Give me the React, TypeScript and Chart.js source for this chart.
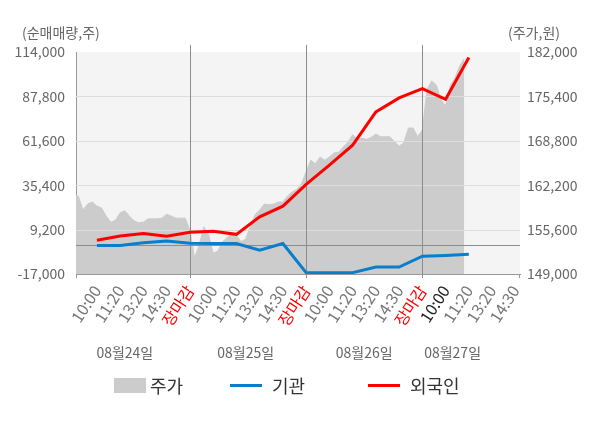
import { useEffect, useRef } from 'react'
import { Chart, registerables } from 'chart.js'

Chart.register(...registerables)

const FONT = "'Noto Sans CJK KR', 'Noto Sans', sans-serif"

// x axis: one slot per label, day closes at 4, 9, 14
const xLabels = [
  '10:00', '11:20', '13:20', '14:30', '장마감',
  '10:00', '11:20', '13:20', '14:30', '장마감',
  '10:00', '11:20', '13:20', '14:30', '장마감',
  '10:00', '11:20', '13:20', '14:30',
]
const closeIdx = [4, 9, 14]
const currentIdx = 15
const dateLabels = ['08월24일', '08월25일', '08월26일', '08월27일']
const dateLabelAt = [1.2, 6.4, 11.5, 15.3]

// 순매매량 (주), one value per label slot
const foreign = [2900, 5400, 6900, 5300, 7600, 8200, 6400, 16700, 23000, 35900, 47200, 59000, 78600, 86900, 92400, 86100, 110700]
const institution = [-200, -200, 1400, 2500, 1100, 1000, 1000, -3000, 1000, -16200, -16200, -16200, -12900, -12900, -6500, -6100, -5400]

// 주가 (원), sampled every 0.2 slot from each day's start
const dayStart = [-1, 4, 9, 14]
const priceStep = 0.2
const day1Price = [160900, 160600, 158500, 159400, 159700, 159100, 158800, 157600, 156700, 157000, 158100, 158400, 157600, 156900, 156600, 156700, 157200, 157200, 157200, 157300, 157900, 157600, 157300, 157300, 157300]
const day2Price = [155500, 151400, 153300, 156000, 154900, 152100, 152400, 153800, 154400, 154900, 154800, 153800, 154200, 156100, 157800, 158500, 159400, 159300, 159400, 159700, 159700, 160600, 161200, 161600, 162400]
const day3Price = [164200, 165900, 165400, 166400, 165900, 166400, 167000, 167100, 167900, 168600, 169700, 169000, 169200, 169000, 169300, 169800, 169400, 169400, 169400, 168700, 168000, 168500, 170700, 170700, 169400]
const day4Price = [170400, 176400, 177700, 177100, 174900, 174000, 177000, 178100, 179900, 181000]

const volTicks = [-17000, 9200, 35400, 61600, 87800, 114000]
const priceTicks = [149000, 155600, 162200, 168800, 175400, 182000]

const fmt = (v: number) => v.toLocaleString('en-US')

const decor = {
  id: 'decor',
  beforeDraw(chart: any) {
    const { ctx, chartArea: a } = chart
    ctx.save()
    ctx.fillStyle = '#f4f4f4'
    ctx.fillRect(a.left, a.top, a.right - a.left, a.bottom - a.top)
    ctx.restore()
  },
  afterDatasetDraw(chart: any, args: any) {
    if (args.index !== 2) return
    const { ctx, chartArea: a, scales } = chart
    const hline = (py: number) => {
      ctx.beginPath(); ctx.moveTo(a.left, py); ctx.lineTo(a.right, py); ctx.stroke()
    }
    const vline = (px: number, y0: number, y1: number) => {
      ctx.beginPath(); ctx.moveTo(px, y0); ctx.lineTo(px, y1); ctx.stroke()
    }
    ctx.save()
    ctx.lineWidth = 1
    ctx.strokeStyle = '#dddddd'
    volTicks.slice(1, -1).forEach((v) => hline(Math.round(scales.y.getPixelForValue(v)) + 0.5))
    ctx.strokeStyle = '#8c8c8c'
    hline(Math.round(scales.y.getPixelForValue(0)) + 0.5)
    closeIdx.forEach((i) => vline(Math.round(scales.x.getPixelForValue(i)) + 0.5, a.top - 7, a.bottom + 4))
    ctx.strokeStyle = '#999999'
    vline(Math.round(a.left) + 0.5, a.bottom, a.bottom + 4)
    vline(Math.round(a.right) - 0.5, a.bottom, a.bottom + 4)
    ctx.restore()
  },
  afterDraw(chart: any) {
    const { ctx, scales } = chart
    ctx.save()
    ctx.textBaseline = 'middle'
    ctx.font = `14px ${FONT}`
    ctx.fillStyle = '#666666'
    ctx.textAlign = 'left'
    ctx.fillText('(순매매량,주)', 22, 33)
    ctx.fillText('(주가,원)', 508, 33)
    ctx.textAlign = 'center'
    dateLabels.forEach((t, i) => ctx.fillText(t, scales.x.getPixelForValue(dateLabelAt[i]), 353))

    // legend
    ctx.textAlign = 'left'
    ctx.font = `18px ${FONT}`
    ctx.fillStyle = '#cccccc'
    ctx.fillRect(114, 378, 32, 15)
    ctx.lineWidth = 3
    ctx.strokeStyle = '#0a7ecb'
    ctx.beginPath(); ctx.moveTo(230, 385.5); ctx.lineTo(262, 385.5); ctx.stroke()
    ctx.strokeStyle = '#ff0000'
    ctx.beginPath(); ctx.moveTo(368, 385.5); ctx.lineTo(400, 385.5); ctx.stroke()
    ctx.fillStyle = '#333333'
    ctx.fillText('주가', 150, 386)
    ctx.fillText('기관', 272, 386)
    ctx.fillText('외국인', 410, 386)
    ctx.restore()
  },
}

export default function App() {
  const ref = useRef<HTMLCanvasElement>(null)

  useEffect(() => {
    if (!ref.current) return
    document.body.style.margin = '0'

    const pricePoints = [day1Price, day2Price, day3Price, day4Price].flatMap((arr, d) =>
      arr.map((v, i) => ({ x: dayStart[d] + i * priceStep, y: v })))

    const chart = new Chart(ref.current, {
      type: 'line',
      data: {
        datasets: [
          {
            label: '외국인',
            data: foreign.map((v, i) => ({ x: i, y: v })),
            borderColor: '#ff0000',
            borderWidth: 3,
            pointRadius: 0,
            yAxisID: 'y',
            order: 0,
          },
          {
            label: '기관',
            data: institution.map((v, i) => ({ x: i, y: v })),
            borderColor: '#0a7ecb',
            borderWidth: 3,
            pointRadius: 0,
            yAxisID: 'y',
            order: 1,
          },
          {
            label: '주가',
            data: pricePoints,
            borderColor: '#cccccc',
            borderWidth: 1,
            backgroundColor: '#cccccc',
            fill: 'start',
            pointRadius: 0,
            yAxisID: 'y1',
            order: 2,
          },
        ],
      },
      options: {
        responsive: true,
        maintainAspectRatio: false,
        animation: false,
        events: [],
        layout: { padding: { top: 52, left: 0, right: 0, bottom: 0 } },
        plugins: { legend: { display: false }, tooltip: { enabled: false } },
        scales: {
          x: {
            type: 'linear',
            min: -0.9,
            max: 18.2,
            afterBuildTicks: (s: any) => { s.ticks = xLabels.map((_, i) => ({ value: i })) },
            afterFit: (s: any) => { s.height = 154 },
            grid: { display: false, drawTicks: false },
            border: { display: true, color: '#999999' },
            ticks: {
              autoSkip: false,
              minRotation: 57,
              maxRotation: 57,
              padding: 8,
              font: { family: FONT, size: 16 },
              color: (c: any) => closeIdx.includes(c.tick?.value) ? '#ff0000' : c.tick?.value === currentIdx ? '#222222' : '#777777',
              callback: (v: any) => xLabels[Math.round(v)] ?? '',
            },
          },
          y: {
            position: 'left',
            min: -17000,
            max: 114000,
            afterBuildTicks: (s: any) => { s.ticks = volTicks.map((v) => ({ value: v })) },
            afterFit: (s: any) => { s.width = 76 },
            grid: { display: false, drawTicks: false },
            border: { display: true, color: '#999999' },
            ticks: {
              padding: 11,
              font: { family: FONT, size: 14 },
              color: '#666666',
              callback: (v: any) => fmt(v),
            },
          },
          y1: {
            position: 'right',
            min: 149000,
            max: 182000,
            afterBuildTicks: (s: any) => { s.ticks = priceTicks.map((v) => ({ value: v })) },
            afterFit: (s: any) => { s.width = 80 },
            grid: { display: false, drawTicks: false },
            border: { display: false },
            ticks: {
              padding: 7,
              font: { family: FONT, size: 14 },
              color: '#666666',
              callback: (v: any) => fmt(v),
            },
          },
        },
      },
      plugins: [decor],
    })
    return () => chart.destroy()
  }, [])

  return (
    <div style={{ position: 'fixed', left: 0, top: 0, width: 600, height: 428, background: '#fff' }}>
      <canvas ref={ref} role="img" aria-label="순매매량 및 주가 차트" />
    </div>
  )
}
